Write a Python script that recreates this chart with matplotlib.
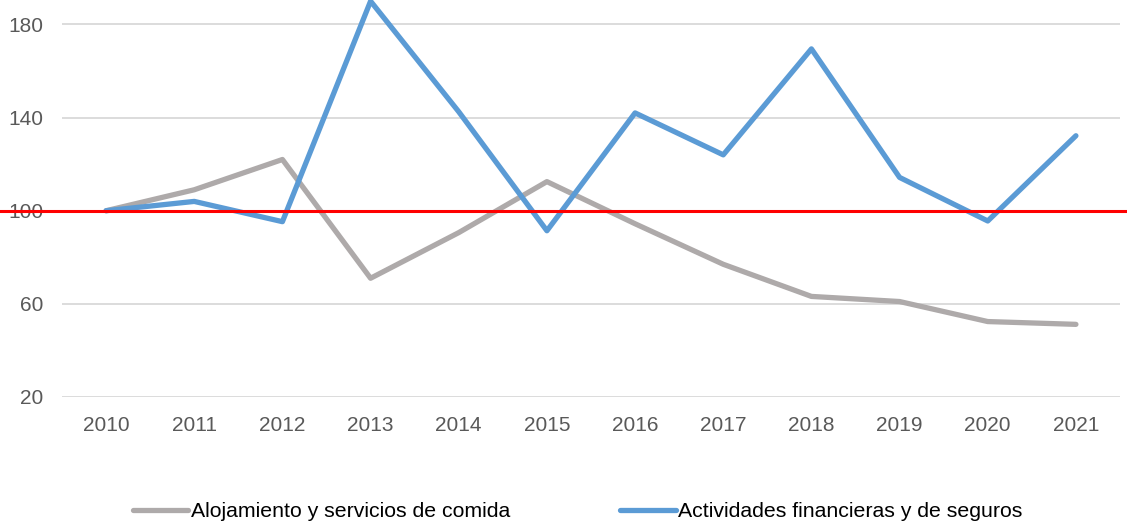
import matplotlib.pyplot as plt

years = ["2010", "2011", "2012", "2013", "2014", "2015",
         "2016", "2017", "2018", "2019", "2020", "2021"]
alojamiento = [100, 109, 122, 71, 90.6, 112.5, 94.4, 77, 63.2, 61, 52.4, 51.2]
financieras = [100, 104, 95.3, 190, 142.5, 91.4, 142, 124, 169.5, 114.3, 95.6, 132.2]
ref_value = 100
yticks = [20, 60, 100, 140, 180]

plt.rcParams['font.family'] = ['Liberation Sans', 'DejaVu Sans']

fig = plt.figure(figsize=(11.27, 5.25), dpi=100)
ax = fig.add_axes([62 / 1127, 1 - 397 / 525, (1120 - 62) / 1127, 397 / 525])

x = range(len(years))
ax.plot(x, alojamiento, color='#aeaaaa', lw=3.8, solid_capstyle='round',
        label='Alojamiento y servicios de comida', zorder=3)
ax.plot(x, financieras, color='#5b9bd5', lw=3.8, solid_capstyle='round',
        label='Actividades financieras y de seguros', zorder=3, clip_on=False)
ax.axhline(ref_value, xmin=-0.06, xmax=1.01, color='#ff0000', lw=2.2,
           clip_on=False, zorder=4)

ax.set_xlim(-0.5, len(years) - 0.5)
ax.set_ylim(20, 190.5)
ax.set_xticks(list(x))
ax.set_xticklabels(years)
ax.set_yticks(yticks)
ax.grid(axis='y', color='#d9d9d9', lw=1.3)
ax.set_axisbelow(True)
for s in ax.spines.values():
    s.set_visible(False)
ax.tick_params(length=0, labelsize=15, colors='#595959')
ax.tick_params(axis='x', pad=13.5)
ax.tick_params(axis='y', pad=13.5)

fig.legend(loc='center', bbox_to_anchor=(0.5125, 0.025), ncol=2, frameon=False,
           fontsize=15.3, handlelength=2.6, handletextpad=0.1, columnspacing=5.2,
           labelcolor='#000000')

fig.savefig('out.png', dpi=100)
